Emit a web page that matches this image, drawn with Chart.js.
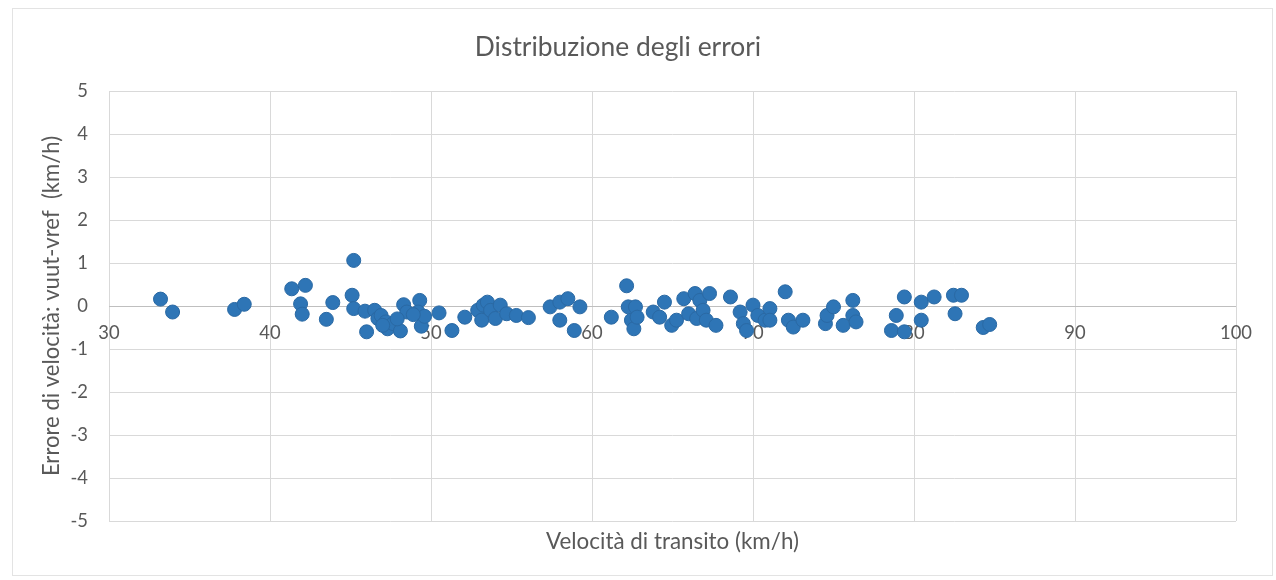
<!DOCTYPE html>
<html>
<head>
<meta charset="utf-8">
<script src="https://cdn.jsdelivr.net/npm/chart.js@4.4.1/dist/chart.umd.min.js"></script>
<style>
html,body{margin:0;padding:0;background:#fff;}
#wrap{width:1276px;height:580px;position:relative;}
</style>
</head>
<body>
<div id="wrap"><canvas id="c" width="1276" height="580"></canvas></div>
<script>
// ---- data ----
const chartTitle = "Distribuzione degli errori";
const xAxisTitle = "Velocità di transito (km/h)";
const yAxisTitle = "Errore di velocità: vuut-vref  (km/h)";
const xTickValues = [30, 40, 50, 60, 70, 80, 90, 100];
const yTickValues = [-5, -4, -3, -2, -1, 0, 1, 2, 3, 4, 5];
const speeds = [
  33.2, 33.95, 37.8, 38.4, 41.35, 41.9, 42.0, 42.2, 43.5, 43.9,
  45.2, 45.1, 45.2, 46.0, 45.9, 46.5, 46.7, 46.9, 47.2, 47.3,
  47.65, 48.1, 48.3, 48.5, 49.3, 49.2, 49.4, 49.6, 50.5, 51.3,
  52.1, 52.9, 53.25, 53.15, 53.5, 53.7, 54.0, 54.3, 54.7, 55.3,
  56.05, 57.4, 58.0, 58.0, 58.5, 58.9, 59.25, 61.2, 62.15, 62.25,
  62.7, 62.45, 62.6, 62.8, 63.8, 64.2, 64.5, 64.95, 65.25, 65.7,
  66.0, 66.4, 66.7, 66.5, 66.9, 67.3, 67.1, 67.7, 68.6, 69.2,
  69.4, 69.6, 70.0, 70.3, 70.75, 71.05, 71.05, 72.0, 72.2, 72.5,
  73.1, 74.5, 74.6, 75.0, 75.6, 76.2, 76.2, 76.4, 78.6, 78.9,
  79.4, 79.4, 80.45, 80.45, 81.25, 82.45, 82.95, 82.55, 84.3, 84.7,
  47.0, 47.9, 48.9
];
const errors = [
  0.16, -0.14, -0.08, 0.04, 0.40, 0.05, -0.19, 0.48, -0.31, 0.08,
  1.06, 0.25, -0.06, -0.60, -0.12, -0.10, -0.29, -0.22, -0.37, -0.53,
  -0.41, -0.58, 0.03, -0.14, 0.13, -0.14, -0.47, -0.24, -0.16, -0.57,
  -0.26, -0.10, 0.02, -0.33, 0.09, -0.10, -0.29, 0.02, -0.18, -0.22,
  -0.27, -0.02, -0.33, 0.09, 0.17, -0.57, -0.02, -0.26, 0.47, -0.02,
  -0.02, -0.33, -0.53, -0.26, -0.14, -0.26, 0.09, -0.45, -0.33, 0.17,
  -0.18, 0.29, 0.13, -0.29, -0.10, 0.29, -0.33, -0.45, 0.21, -0.14,
  -0.41, -0.57, 0.02, -0.22, -0.33, -0.06, -0.33, 0.33, -0.33, -0.49,
  -0.33, -0.41, -0.22, -0.02, -0.45, 0.13, -0.22, -0.37, -0.57, -0.22,
  0.21, -0.60, 0.09, -0.33, 0.21, 0.25, 0.25, -0.18, -0.50, -0.43,
  -0.45, -0.30, -0.20
];

// ---- styling helpers ----
const FAMILY = "Lato, 'Open Sans', sans-serif";
function fitSize(text, target) {
  const ctx = document.createElement('canvas').getContext('2d');
  ctx.font = '100px ' + FAMILY;
  return Math.round(100 * target / ctx.measureText(text).width * 10) / 10;
}
const titleSize = fitSize(chartTitle, 287);
const xTitleSize = fitSize(xAxisTitle, 253);
const yTitleSize = fitSize(yAxisTitle, 340);
const tickSize = fitSize("100", 32);
const TEXT = '#595959';
const GRID = '#d9d9d9';

const points = speeds.map((s, i) => ({x: s, y: errors[i]}));

const framePlugin = {
  id: 'frame',
  beforeDraw(chart) {
    const c = chart.ctx;
    c.save();
    c.fillStyle = '#fff';
    c.fillRect(0, 0, chart.width, chart.height);
    c.strokeStyle = '#e3e3e3';
    c.lineWidth = 1;
    c.strokeRect(12.5, 8.5, 1260, 567);
    c.restore();
  }
};

new Chart(document.getElementById('c'), {
  type: 'scatter',
  data: {
    datasets: [{
      label: 'errori',
      data: points,
      backgroundColor: '#2e75b6',
      borderColor: '#2a69a4',
      borderWidth: 1,
      pointRadius: 7,
      pointHoverRadius: 7
    }]
  },
  plugins: [framePlugin],
  options: {
    responsive: false,
    animation: false,
    events: [],
    layout: {padding: {top: 0, left: 0, right: 40, bottom: 0}},
    plugins: {
      legend: {display: false},
      tooltip: {enabled: false},
      title: {
        display: true,
        text: chartTitle,
        color: TEXT,
        font: {family: FAMILY, size: titleSize, weight: 'normal', lineHeight: 1.2},
        padding: {top: 47 - titleSize * 0.6, bottom: 91 - (47 + titleSize * 0.6)}
      }
    },
    scales: {
      x: {
        type: 'linear',
        position: 'bottom',
        min: 30, max: 100,
        afterBuildTicks(scale) { scale.ticks = xTickValues.map(v => ({value: v})); },
        afterFit(scale) { scale.height = 59; },
        grid: {color: GRID, lineWidth: 1, drawTicks: false},
        border: {display: false},
        ticks: {display: false},
        title: {
          display: true,
          text: xAxisTitle,
          color: TEXT,
          font: {family: FAMILY, size: xTitleSize, lineHeight: 1.2},
          padding: {top: 0, bottom: 38 - xTitleSize * 0.6}
        }
      },
      xc: {
        type: 'linear',
        axis: 'x',
        position: {y: 0},
        min: 30, max: 100,
        afterBuildTicks(scale) { scale.ticks = xTickValues.map(v => ({value: v})); },
        grid: {display: false, drawTicks: false},
        border: {display: false},
        ticks: {
          color: TEXT,
          padding: 16,
          maxRotation: 0,
          font: {family: FAMILY, size: tickSize}
        }
      },
      y: {
        type: 'linear',
        min: -5, max: 5,
        afterBuildTicks(scale) { scale.ticks = yTickValues.map(v => ({value: v})); },
        afterFit(scale) { scale.width = 109; },
        grid: {
          color: ctx => (ctx.tick && ctx.tick.value === 0) ? '#bfbfbf' : GRID,
          lineWidth: 1,
          drawTicks: false
        },
        border: {display: false},
        ticks: {
          color: TEXT,
          padding: 21,
          font: {family: FAMILY, size: tickSize}
        },
        title: {
          display: true,
          text: yAxisTitle,
          color: TEXT,
          font: {family: FAMILY, size: yTitleSize, lineHeight: 1.2},
          padding: {top: 52 - yTitleSize * 0.6, bottom: 0}
        }
      }
    }
  }
});
</script>
</body>
</html>
